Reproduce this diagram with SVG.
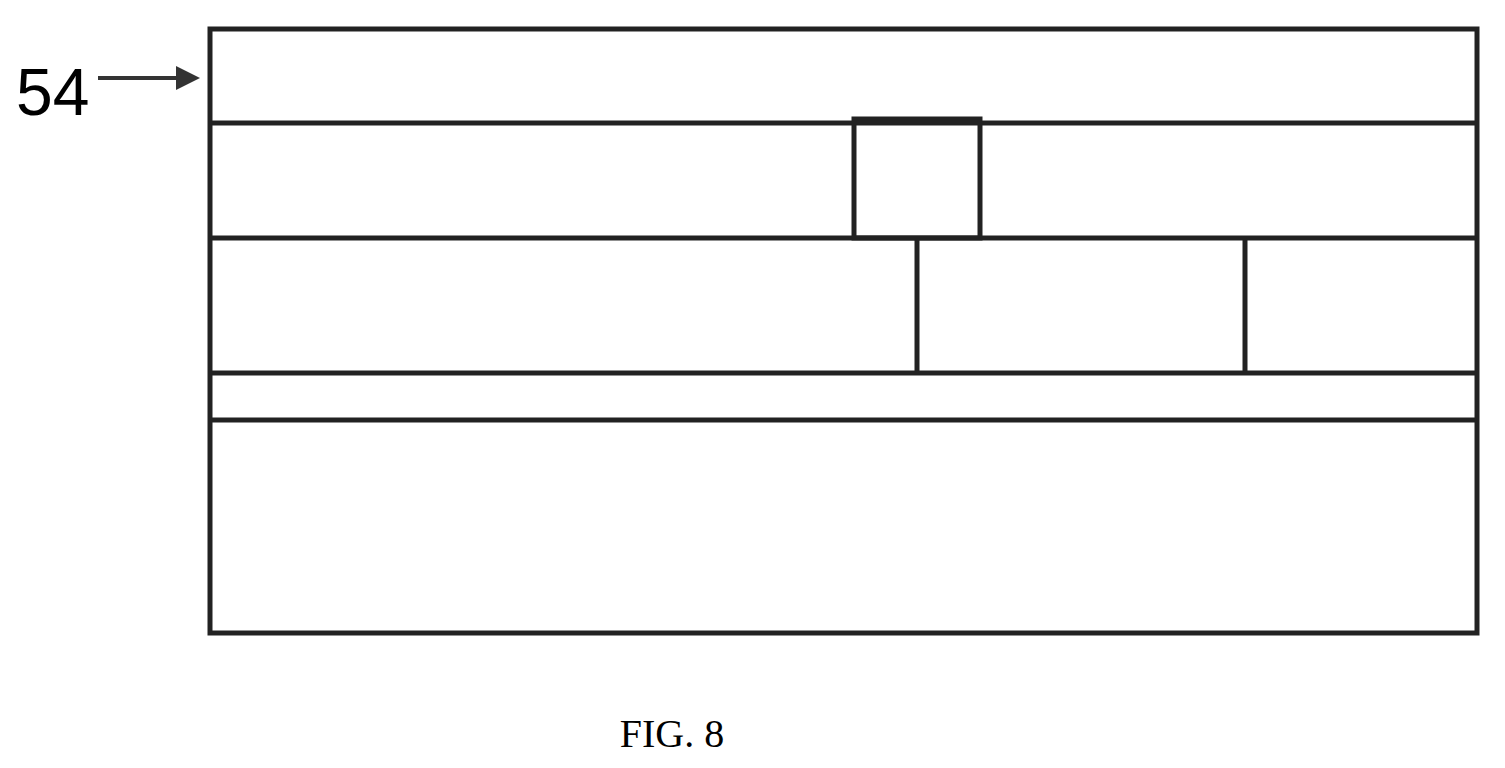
<svg xmlns="http://www.w3.org/2000/svg" width="1505" height="768" viewBox="0 0 1505 768">
<style>.l{stroke:#222;stroke-width:5;fill:none}</style>
<defs><marker id="a" markerWidth="6" markerHeight="6" refX="5" refY="3" orient="auto"><path d="M0,0L6,3L0,6z" fill="#333"/></marker></defs>
<rect width="1505" height="768" fill="#fff"/>
<g id="layers">
<rect class="l" x="210" y="29" width="1267" height="604"/>
<line class="l" x1="210" y1="123" x2="1477" y2="123"/>
<line class="l" x1="210" y1="238" x2="1477" y2="238"/>
<line class="l" x1="210" y1="373" x2="1477" y2="373"/>
<line class="l" x1="210" y1="420" x2="1477" y2="420"/>
<rect class="l" x="854" y="119" width="126" height="119"/>
<line class="l" x1="917" y1="238" x2="917" y2="373"/>
<line class="l" x1="1245" y1="238" x2="1245" y2="373"/>
</g>
<g id="connectors"><line x1="98" y1="78" x2="196" y2="78" stroke="#333" stroke-width="4" marker-end="url(#a)"/></g>
<g id="label54"><text x="16" y="115" font-family="Liberation Sans, sans-serif" font-size="66">54</text></g>
<text x="672" y="747" text-anchor="middle" font-family="Liberation Serif, serif" font-size="40">FIG. 8</text>
</svg>
